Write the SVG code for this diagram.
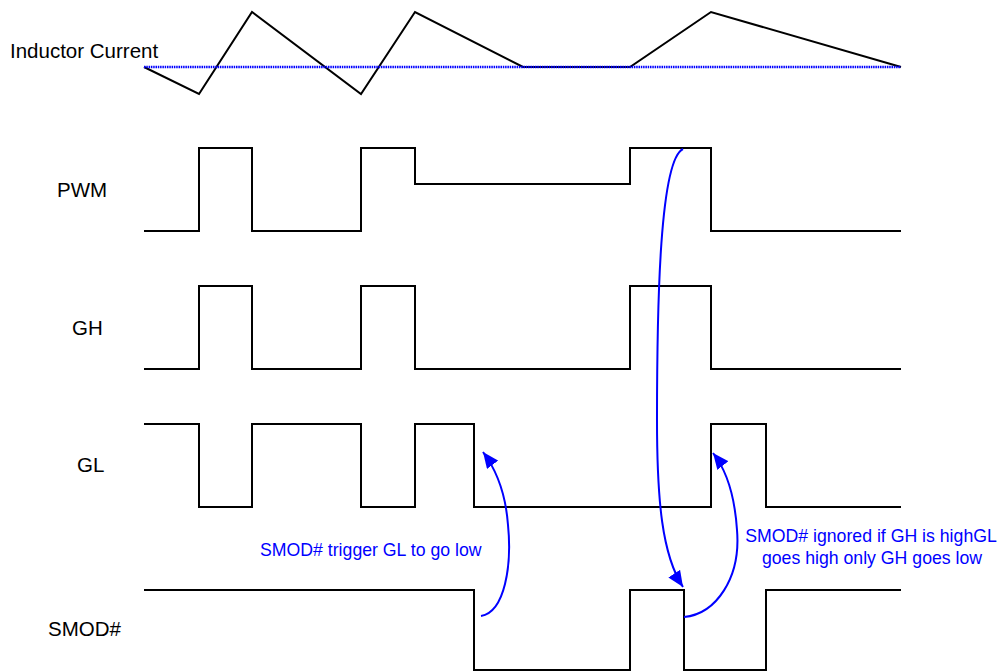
<svg xmlns="http://www.w3.org/2000/svg" width="1003" height="672" viewBox="0 0 1003 672">
<style>
.wave{fill:none;stroke:#000;stroke-width:2;stroke-linejoin:miter}
.lbl{font-family:"Liberation Sans",Arial,sans-serif;font-size:20.5px;fill:#000}
.note{font-family:"Liberation Sans",Arial,sans-serif;font-size:17.7px;fill:#0000ff}
.arr{fill:none;stroke:#0000ff;stroke-width:2}
</style>
<defs>
<marker id="ah" markerUnits="userSpaceOnUse" markerWidth="18" markerHeight="14" refX="16" refY="7" orient="auto">
<path d="M0,0 L16,7 L0,14 Z" fill="#0000ff"/>
</marker>
</defs>
<rect width="1003" height="672" fill="#fff"/>
<g id="inductor">
<text class="lbl" x="10" y="58">Inductor Current</text>
<polyline class="wave" points="144,67 199,94 252,12 361,94 415,12 523,67 630,67 711,12 901,67"/>
<line x1="144" y1="67" x2="901" y2="67" stroke="#0000ff" stroke-width="2.5" stroke-dasharray="1.5,0.8"/>
</g>
<g id="pwm">
<text class="lbl" x="57" y="197">PWM</text>
<polyline class="wave" points="144,231 199,231 199,148 252,148 252,231 361,231 361,148 415,148 415,184 630,184 630,148 711,148 711,231 901,231"/>
</g>
<g id="gh">
<text class="lbl" x="72" y="335">GH</text>
<polyline class="wave" points="144,369 199,369 199,286 252,286 252,369 361,369 361,286 415,286 415,369 630,369 630,286 711,286 711,369 901,369"/>
</g>
<g id="gl">
<text class="lbl" x="77" y="472">GL</text>
<polyline class="wave" points="144,424 199,424 199,507 252,507 252,424 361,424 361,507 415,507 415,424 474,424 474,507 711,507 711,424 766,424 766,507 901,507"/>
</g>
<g id="smod">
<text class="lbl" x="48" y="636">SMOD#</text>
<polyline class="wave" points="144,590 474,590 474,670 630,670 630,590 684,590 684,670 766,670 766,590 901,590"/>
</g>
<g id="connectors">
<path class="arr" marker-end="url(#ah)" d="M481,616 C505,612 512,565 508,525 C506,498 498,472 483,452"/>
<path class="arr" marker-end="url(#ah)" d="M683,149 C660,160 657,300 657,420 C657,500 662,555 683,587"/>
<path class="arr" marker-end="url(#ah)" d="M684,617 C716,614 741,578 737,530 C735,500 728,472 713,453"/>
</g>
<g id="notes">
<text class="note" x="260" y="556">SMOD# trigger GL to go low</text>
<text class="note" x="871" y="542" text-anchor="middle">SMOD# ignored if GH is highGL</text>
<text class="note" x="872" y="564" text-anchor="middle">goes high only GH goes low</text>
</g>
</svg>
